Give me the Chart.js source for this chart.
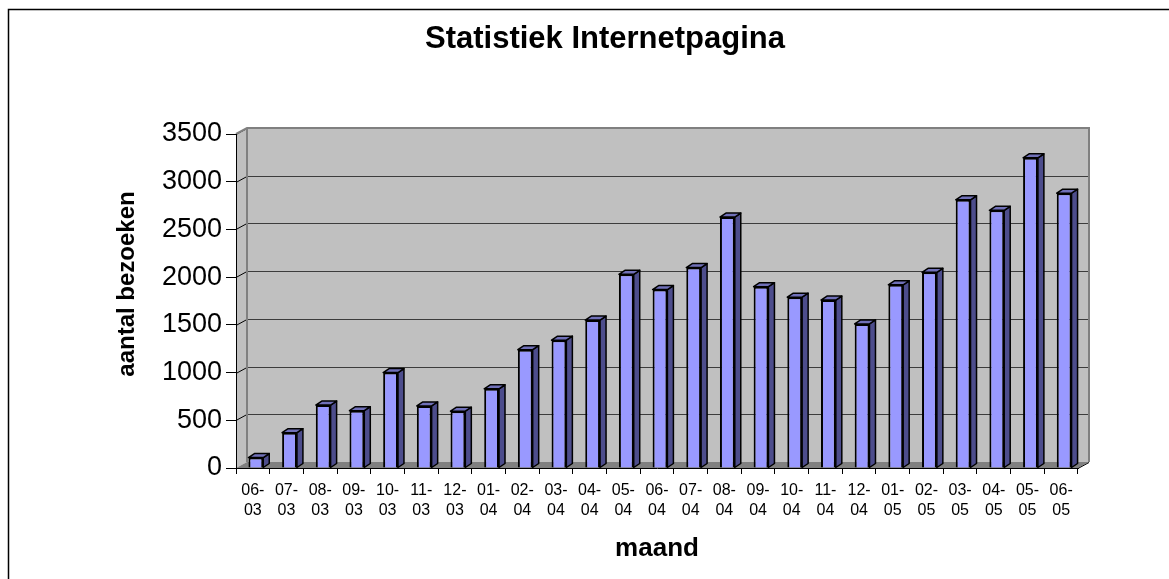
<!DOCTYPE html>
<html lang="nl">
<head>
  <meta charset="UTF-8" />
  <title>Statistiek Internetpagina</title>
  <script src="https://cdn.jsdelivr.net/npm/chart.js"></script>
  <style>
    body { margin: 0; background: #fff; }
    #wrap { width: 1169px; height: 579px; }
  </style>
</head>
<body>
  <div id="wrap"><canvas id="chart" width="1169" height="579"></canvas></div>
  <script>
    // maanden (mm-jj) en aantal bezoeken
    const maanden = ['06-03', '07-03', '08-03', '09-03', '10-03', '11-03', '12-03',
      '01-04', '02-04', '03-04', '04-04', '05-04', '06-04', '07-04', '08-04', '09-04',
      '10-04', '11-04', '12-04', '01-05', '02-05', '03-05', '04-05', '05-05', '06-05'];
    const bezoeken = [110, 370, 660, 600, 1000, 650, 595, 830, 1240, 1340, 1550, 2030,
      1870, 2100, 2630, 1900, 1790, 1760, 1510, 1920, 2050, 2810, 2700, 3250, 2880];
    const yMin = 0, yMax = 3500, yStap = 500;
    const titel = 'Statistiek Internetpagina';
    const xTitel = 'maand';
    const yTitel = 'aantal bezoeken';

    const FONT = "'Liberation Sans', Arial, sans-serif";
    const WAND = { dx: 11, dy: -6 };   // diepte van de achterwand
    const BALK = { dx: 6, dy: -4, shift: 3 }; // diepte van de kolommen

    // 3D-achtergrond: zijwand, achterwand met rasterlijnen, vloer
    const wandPlugin = {
      id: 'wanden',
      beforeDraw(chart) {
        const { ctx, chartArea: a, scales: { y } } = chart;
        ctx.save();
        ctx.fillStyle = '#fff';
        ctx.fillRect(0, 0, chart.width, chart.height);
        // kader
        ctx.strokeStyle = '#000';
        ctx.lineWidth = 1.5;
        ctx.beginPath();
        ctx.moveTo(8.5, chart.height);
        ctx.lineTo(8.5, 9.5);
        ctx.lineTo(chart.width, 9.5);
        ctx.stroke();

        const top = y.getPixelForValue(yMax), bot = y.getPixelForValue(yMin);
        // zijwand
        ctx.fillStyle = '#c0c0c0';
        ctx.beginPath();
        ctx.moveTo(a.left, top);
        ctx.lineTo(a.left + WAND.dx, top + WAND.dy);
        ctx.lineTo(a.left + WAND.dx, bot + WAND.dy);
        ctx.lineTo(a.left, bot);
        ctx.closePath();
        ctx.fill();
        // achterwand
        ctx.fillRect(a.left + WAND.dx, top + WAND.dy, a.right - a.left, bot - top);
        // vloer
        ctx.fillStyle = '#808080';
        ctx.beginPath();
        ctx.moveTo(a.left, bot);
        ctx.lineTo(a.left + WAND.dx, bot + WAND.dy);
        ctx.lineTo(a.right + WAND.dx, bot + WAND.dy);
        ctx.lineTo(a.right, bot);
        ctx.closePath();
        ctx.fill();
        // rasterlijnen
        ctx.lineWidth = 1;
        y.ticks.forEach(t => {
          const py = Math.round(y.getPixelForValue(t.value)) + 0.5;
          if (t.value === yMin) return;
          ctx.strokeStyle = '#3c3c3c';
          ctx.beginPath();
          ctx.moveTo(a.left + WAND.dx, py + WAND.dy);
          ctx.lineTo(a.right + WAND.dx, py + WAND.dy);
          ctx.stroke();
          ctx.strokeStyle = '#000';
          ctx.beginPath();
          ctx.moveTo(a.left, py);
          ctx.lineTo(a.left + WAND.dx, py + WAND.dy);
          ctx.stroke();
        });
        // randen van de wanden
        ctx.strokeStyle = '#808080';
        ctx.lineWidth = 2;
        ctx.beginPath();
        ctx.moveTo(a.left, top);
        ctx.lineTo(a.left + WAND.dx, top + WAND.dy);
        ctx.lineTo(a.right + WAND.dx, top + WAND.dy);
        ctx.lineTo(a.right + WAND.dx, bot + WAND.dy);
        ctx.moveTo(a.left + WAND.dx, top + WAND.dy);
        ctx.lineTo(a.left + WAND.dx, bot + WAND.dy);
        ctx.stroke();
        ctx.strokeStyle = '#000';
        ctx.lineWidth = 1;
        ctx.beginPath();
        ctx.moveTo(a.right, bot + 0.5);
        ctx.lineTo(a.right + WAND.dx, bot + WAND.dy + 0.5);
        ctx.stroke();
        ctx.restore();
      },
      beforeDatasetsDraw(chart) {
        const ctx = chart.ctx;
        ctx.save();
        ctx.translate(BALK.shift, 0);
        // zij- en bovenvlak van elke kolom
        chart.getDatasetMeta(0).data.forEach(el => {
          const { x, y, base, width } = el.getProps(['x', 'y', 'base', 'width'], true);
          const l = x - width / 2, r = x + width / 2;
          ctx.lineWidth = 1.5;
          ctx.strokeStyle = '#000';
          ctx.lineJoin = 'round';
          ctx.fillStyle = '#4d4d8c';
          ctx.beginPath();
          ctx.moveTo(r, y);
          ctx.lineTo(r + BALK.dx, y + BALK.dy);
          ctx.lineTo(r + BALK.dx, base + BALK.dy);
          ctx.lineTo(r, base);
          ctx.closePath();
          ctx.fill();
          ctx.stroke();
          ctx.fillStyle = '#7070b8';
          ctx.beginPath();
          ctx.moveTo(l, y);
          ctx.lineTo(l + BALK.dx, y + BALK.dy);
          ctx.lineTo(r + BALK.dx, y + BALK.dy);
          ctx.lineTo(r, y);
          ctx.closePath();
          ctx.fill();
          ctx.stroke();
        });
      },
      afterDatasetsDraw(chart) {
        chart.ctx.restore();
      },
      // titels zoals in het origineel geplaatst
      afterDraw(chart) {
        const ctx = chart.ctx;
        ctx.save();
        ctx.fillStyle = '#000';
        ctx.textAlign = 'center';
        ctx.textBaseline = 'middle';
        ctx.font = `bold 31px ${FONT}`;
        ctx.fillText(titel, 605, 39);
        ctx.font = `bold 26px ${FONT}`;
        ctx.fillText(xTitel, 657, 549);
        ctx.translate(127, 284);
        ctx.rotate(-Math.PI / 2);
        ctx.font = `bold 24px ${FONT}`;
        ctx.fillText(yTitel, 0, 0);
        ctx.restore();
      }
    };

    Chart.defaults.color = '#000';
    Chart.defaults.font.family = FONT;

    new Chart(document.getElementById('chart'), {
      type: 'bar',
      data: {
        labels: maanden,
        datasets: [{
          data: bezoeken,
          backgroundColor: '#9999ff',
          borderColor: '#000',
          borderWidth: 2,
          categoryPercentage: 1,
          barPercentage: 0.44
        }]
      },
      options: {
        responsive: false,
        animation: false,
        layout: { padding: { left: 100, right: 91, top: 134, bottom: 10 } },
        plugins: {
          legend: { display: false },
          tooltip: { enabled: false },
          title: { display: false }
        },
        scales: {
          x: {
            afterFit(s) { s.height = 101; },
            grid: { drawOnChartArea: false, drawTicks: true, tickLength: 6, color: '#000', offset: true },
            border: { display: true, color: '#000', width: 1 },
            ticks: {
              font: { size: 16, lineHeight: 1.25 },
              padding: 7,
              maxRotation: 0,
              autoSkip: false,
              callback(v) {
                const s = maanden[v];
                return [s.slice(0, 3), s.slice(3)];
              }
            }
          },
          y: {
            min: yMin,
            max: yMax,
            afterFit(s) { s.width = 136; },
            grid: { drawOnChartArea: false, drawTicks: true, tickLength: 10, color: '#000' },
            border: { display: true, color: '#000', width: 1 },
            ticks: {
              stepSize: yStap,
              font: { size: 27 },
              padding: 4,
              callback: v => String(v)
            }
          }
        }
      },
      plugins: [wandPlugin]
    });
  </script>
</body>
</html>
